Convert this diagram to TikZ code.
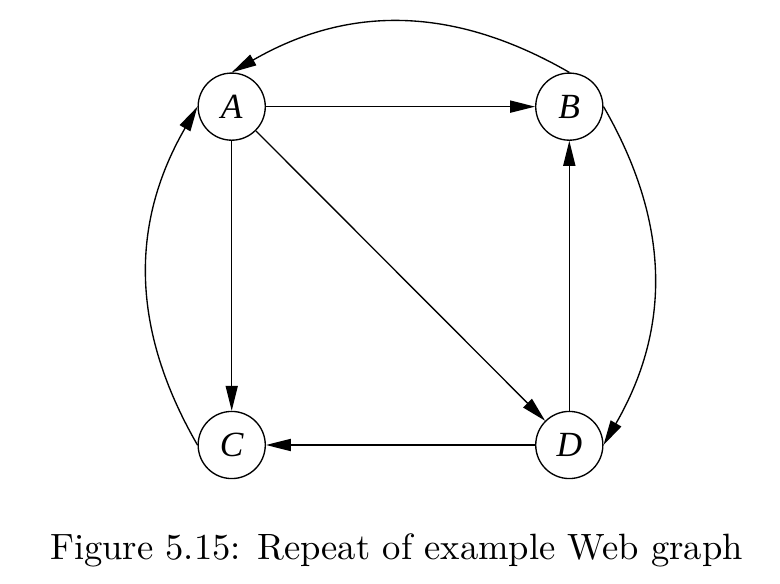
\documentclass[tikz,border=0pt]{standalone}
\usepackage{fontspec}
\newfontfamily\pagefont{Liberation Serif}
\usetikzlibrary{arrows.meta}
\tikzset{webpage/.style={draw,circle,minimum size=0.70cm,inner sep=0pt,
    font=\pagefont\itshape\fontsize{10.5pt}{12pt}\selectfont},
  weblink/.style={thin,-{Triangle[length=7.4pt,width=3.6pt]}}}
\newcommand{\webpage}[3]{\node[webpage] (#1) at (#2,#3) {#1};}
\newcommand{\weblink}[2]{\draw[weblink] (#1) -- (#2);}
\newcommand{\bentlink}[3]{\draw[weblink] (#1) to[#3] (#2);}
\begin{document}
\begin{tikzpicture}
    \useasboundingbox (0,0) rectangle (8.133,6.089);
    \webpage{A}{2.416}{4.977}    \webpage{B}{5.936}{4.977}
    \webpage{C}{2.416}{1.449}    \webpage{D}{5.936}{1.449}
    \weblink{A}{B}\weblink{A}{C}\weblink{A}{D}
    \weblink{D}{B}\weblink{D}{C}
    \bentlink{B.north}{A.north}{bend right=30,looseness=1.02}
    \bentlink{C.west}{A.west}{bend left=30,looseness=1.02}
    \bentlink{B.east}{D.east}{bend left=30,looseness=1.02}
    \node[anchor=base,font=\fontsize{10.86pt}{13pt}\selectfont] (caption) at (4.134,0.26) {Figure 5.15: Repeat of example Web graph};
\end{tikzpicture}
\end{document}
